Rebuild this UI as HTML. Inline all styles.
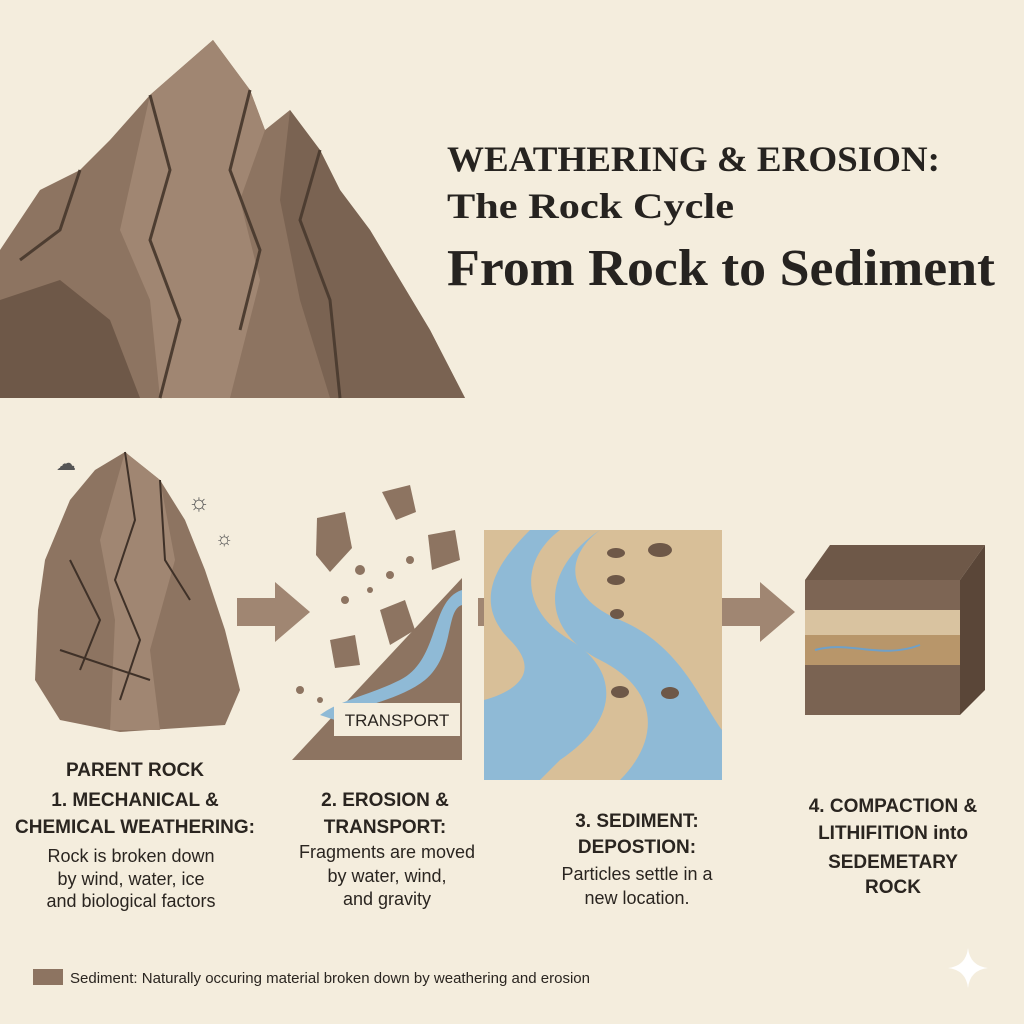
<!DOCTYPE html>
<html><head><meta charset="utf-8"><style>
html,body{margin:0;padding:0;background:#f4eddd;}
svg{display:block}
.s{font-family:"Liberation Sans",sans-serif;fill:#2a2520}
.b{font-weight:bold}
.t{font-family:"Liberation Serif",serif;font-weight:bold;fill:#262320}
</style></head><body>
<svg width="1024" height="1024" viewBox="0 0 1024 1024" xmlns="http://www.w3.org/2000/svg">
<rect width="1024" height="1024" fill="#f4eddd"/>
<polygon points="0,398 0,250 40,190 80,170 110,140 150,95 213,40 250,90 265,130 290,110 320,150 340,190 370,230 400,280 430,330 465,398" fill="#8d7461"/>
<polygon points="213,40 250,90 265,130 240,200 260,280 230,398 160,398 150,300 120,230 150,95" fill="#a08672"/>
<polygon points="290,110 320,150 340,190 370,230 400,280 430,330 465,398 330,398 300,300 280,200" fill="#7a6352"/>
<polygon points="0,300 60,280 110,320 140,398 0,398" fill="#6e5848"/>
<g stroke="#4d3d31" stroke-width="3" fill="none">
<path d="M150,95 L170,170 L150,240 L180,320 L160,398"/>
<path d="M250,90 L230,170 L260,250 L240,330"/>
<path d="M80,170 L60,230 L20,260"/>
<path d="M320,150 L300,220 L330,300 L340,398"/>
</g>
<text class="t" x="447" y="171" font-size="36" textLength="493" lengthAdjust="spacingAndGlyphs">WEATHERING &amp; EROSION:</text>
<text class="t" x="447" y="218" font-size="36" textLength="287" lengthAdjust="spacingAndGlyphs">The Rock Cycle</text>
<text class="t" x="447" y="285" font-size="52" textLength="548" lengthAdjust="spacingAndGlyphs">From Rock to Sediment</text>
<polygon points="45,560 70,500 95,470 125,452 160,480 185,520 205,570 225,630 240,690 225,725 120,732 60,720 35,680 38,610" fill="#8d7461"/>
<polygon points="125,452 160,480 175,560 150,650 160,730 110,730 115,620 100,540" fill="#a08672"/>
<g stroke="#3f3128" stroke-width="2" fill="none">
<path d="M125,452 L135,520 L115,580 L140,640 L120,700"/>
<path d="M160,480 L165,560 L190,600"/>
<path d="M70,560 L100,620 L80,670"/>
<path d="M60,650 L150,680"/>
</g>
<text x="56" y="470" font-size="20" fill="#555">☁</text>
<text x="188" y="510" font-size="24" fill="#555">☼</text>
<text x="215" y="545" font-size="20" fill="#555">☼</text>
<g fill="#a08672">
<polygon points="237,598 275,598 275,582 310,612 275,642 275,626 237,626"/>
<polygon points="478,598 516,598 516,582 551,612 516,642 516,626 478,626"/>
<polygon points="722,598 760,598 760,582 795,612 760,642 760,626 722,626"/>
</g>
<polygon points="292,760 462,578 462,760" fill="#8d7461"/>
<path d="M462,590 C430,600 440,660 400,680 C370,695 340,700 320,715 L335,720 C360,705 400,700 425,680 C455,655 445,610 462,605Z" fill="#8fbad6"/>
<rect x="334" y="703" width="126" height="33" fill="#f4eddd"/>
<text class="s" x="397" y="726" font-size="17" text-anchor="middle">TRANSPORT</text>
<g fill="#8d7461">
<polygon points="317,518 345,512 352,548 330,572 316,555"/><polygon points="382,492 410,485 416,512 396,520"/>
<polygon points="428,535 455,530 460,560 432,570"/><polygon points="330,640 355,635 360,665 335,668"/>
<polygon points="380,610 405,600 415,630 390,645"/>
<circle cx="360" cy="570" r="5"/><circle cx="390" cy="575" r="4"/><circle cx="345" cy="600" r="4"/><circle cx="410" cy="560" r="4"/><circle cx="300" cy="690" r="4"/><circle cx="320" cy="700" r="3"/><circle cx="370" cy="590" r="3"/>
</g>
<rect x="484" y="530" width="238" height="250" fill="#d8bf98"/>
<path d="M560,530 C520,560 520,610 570,640 C620,670 620,720 560,760 L540,780 L484,780 L484,700 C520,690 540,670 510,640 C470,600 500,560 530,530Z" fill="#8fbad6"/>
<path d="M600,530 C560,560 570,600 620,620 C680,645 700,700 722,730 L722,780 L620,780 C660,740 660,690 600,660 C540,630 540,570 600,530Z" fill="#8fbad6"/>
<g fill="#6e5848"><ellipse cx="616" cy="553" rx="9" ry="5"/><ellipse cx="660" cy="550" rx="12" ry="7"/><ellipse cx="616" cy="580" rx="9" ry="5"/><ellipse cx="617" cy="614" rx="7" ry="5"/><ellipse cx="620" cy="692" rx="9" ry="6"/><ellipse cx="670" cy="693" rx="9" ry="6"/></g>
<polygon points="805,580 830,545 985,545 960,580" fill="#6e5848"/>
<polygon points="960,580 985,545 985,690 960,715" fill="#5a4638"/>
<rect x="805" y="580" width="155" height="30" fill="#7d6554"/>
<rect x="805" y="610" width="155" height="25" fill="#d9c3a0"/>
<rect x="805" y="635" width="155" height="30" fill="#b8966a"/>
<rect x="805" y="665" width="155" height="50" fill="#7a6352"/>
<path d="M815,650 C850,640 880,660 920,645" stroke="#6fa0c8" stroke-width="2" fill="none"/>
<g class="s b" font-size="19" text-anchor="middle">
<text x="135" y="776">PARENT ROCK</text>
<text x="135" y="806">1. MECHANICAL &amp;</text>
<text x="135" y="833">CHEMICAL WEATHERING:</text>
<text x="385" y="806">2.    EROSION &amp;</text>
<text x="385" y="833">TRANSPORT:</text>
<text x="637" y="827">3.  SEDIMENT:</text>
<text x="637" y="853">DEPOSTION:</text>
<text x="893" y="812">4. COMPACTION &amp;</text>
<text x="893" y="839">LITHIFITION into</text>
<text x="893" y="868">SEDEMETARY</text>
<text x="893" y="893">ROCK</text>
</g>
<g class="s" font-size="18" text-anchor="middle">
<text x="131" y="862">Rock is broken down</text>
<text x="131" y="885">by wind, water, ice</text>
<text x="131" y="907">and biological factors</text>
<text x="387" y="858">Fragments are moved</text>
<text x="387" y="882">by water, wind,</text>
<text x="387" y="905">and gravity</text>
<text x="637" y="880">Particles settle in a</text>
<text x="637" y="904">new location.</text>
</g>
<rect x="33" y="969" width="30" height="16" fill="#8d7461"/>
<text class="s" x="70" y="983" font-size="15" textLength="520" lengthAdjust="spacingAndGlyphs">Sediment: Naturally occuring material broken down by weathering and erosion</text>
<path d="M968,948 Q970,966 988,968 Q970,970 968,988 Q966,970 948,968 Q966,966 968,948Z" fill="#fff"/>
</svg>
</body></html>
